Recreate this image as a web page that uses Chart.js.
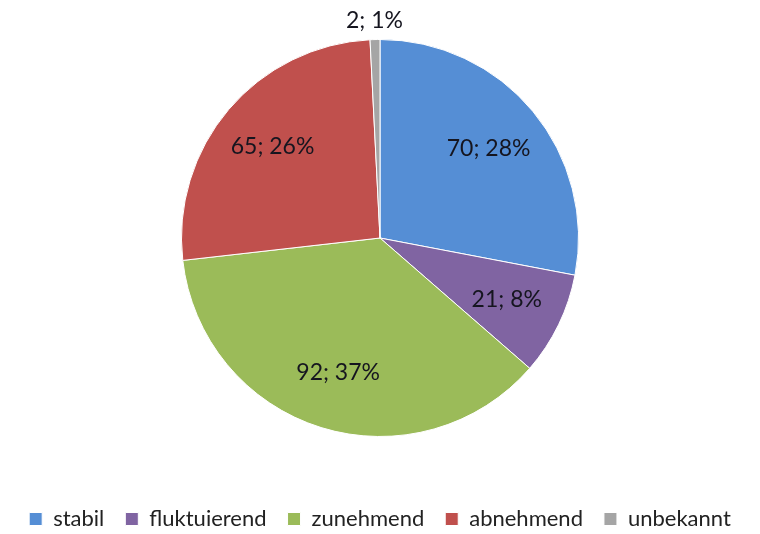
<!DOCTYPE html>
<html>
<head>
<meta charset="utf-8">
<script src="https://cdn.jsdelivr.net/npm/chart.js@4/dist/chart.umd.min.js"></script>
<style>
  html, body { margin: 0; padding: 0; background: #fff; }
  #wrap { width: 760px; height: 534px; position: relative; }
</style>
</head>
<body>
<div id="wrap"><canvas id="chart"></canvas></div>
<script>
// Trend categories and counts
const categories = ['stabil', 'fluktuierend', 'zunehmend', 'abnehmend', 'unbekannt'];
const counts = [70, 21, 92, 65, 2];
const percents = [28, 8, 37, 26, 1];
const colors = ['#558ed5', '#8064a2', '#9bbb59', '#c0504d', '#a5a5a5'];

// Draw "value; percent" labels on the slices
const sliceLabels = {
    id: 'sliceLabels',
    afterDatasetsDraw(chart) {
        const ctx = chart.ctx;
        const arcs = chart.getDatasetMeta(0).data;
        ctx.save();
        ctx.font = '23px Lato, "Open Sans", sans-serif';
        ctx.fillStyle = '#15151f';
        ctx.textAlign = 'center';
        ctx.textBaseline = 'middle';
        arcs.forEach((arc, i) => {
            const p = arc.getProps(['x', 'y', 'startAngle', 'endAngle', 'outerRadius'], true);
            const mid = (p.startAngle + p.endAngle) / 2;
            const small = percents[i] < 3;
            const r = small ? p.outerRadius + 19 : p.outerRadius * 0.71;
            const x = p.x + Math.cos(mid) * r;
            const y = p.y + Math.sin(mid) * r;
            ctx.fillText(counts[i] + '; ' + percents[i] + '%', x, y);
        });
        ctx.restore();
    }
};

new Chart(document.getElementById('chart'), {
    type: 'pie',
    data: {
        labels: categories,
        datasets: [{
            data: counts,
            backgroundColor: colors,
            borderColor: '#ffffff',
            borderWidth: 1
        }]
    },
    options: {
        responsive: true,
        maintainAspectRatio: false,
        animation: false,
        layout: { padding: { top: 39, bottom: 0, left: 0, right: 0 } },
        plugins: {
            tooltip: { enabled: false },
            legend: {
                position: 'bottom',
                maxHeight: 97,
                title: {
                    display: true,
                    text: ' ',
                    font: { size: 10 },
                    padding: { top: 38, bottom: 0 }
                },
                labels: {
                    boxWidth: 13,
                    boxHeight: 13,
                    padding: 21,
                    color: '#222',
                    font: { size: 22, family: 'Lato, "Open Sans", sans-serif' }
                }
            }
        }
    },
    plugins: [sliceLabels]
});
</script>
</body>
</html>
